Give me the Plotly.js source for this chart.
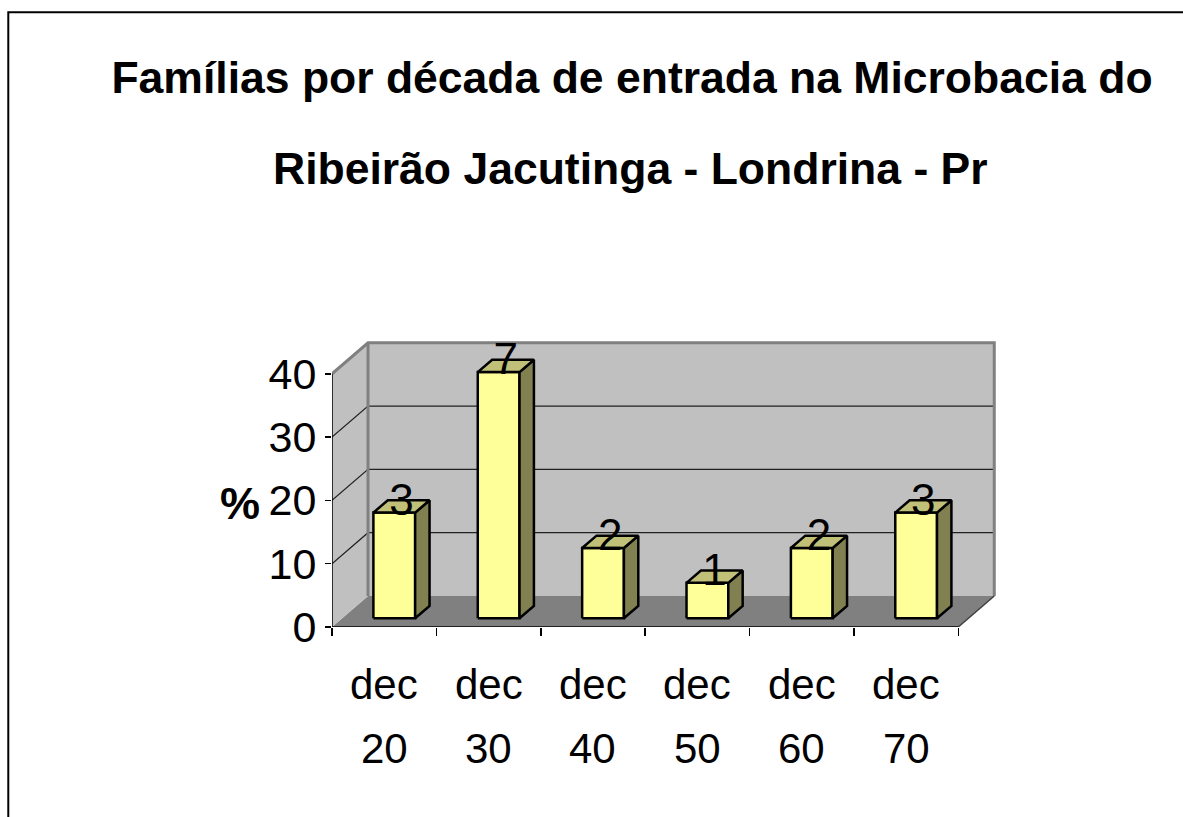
<!DOCTYPE html>
<html>
<head>
<meta charset="utf-8">
<script src="https://cdn.plot.ly/plotly-3.0.1.min.js"></script>
<style>
  html, body { margin: 0; padding: 0; background: #ffffff; }
  #chart { width: 1183px; height: 817px; }
</style>
</head>
<body>
<div id="chart"></div>
<script>
// ---------- data ----------
const categories = ['dec 20', 'dec 30', 'dec 40', 'dec 50', 'dec 60', 'dec 70'];
const labelTop = ['dec', 'dec', 'dec', 'dec', 'dec', 'dec'];
const labelBottom = ['20', '30', '40', '50', '60', '70'];
const percents = [16.7, 38.9, 11.1, 5.6, 11.1, 16.7];
const counts = [3, 7, 2, 1, 2, 3];
const yTicks = [0, 10, 20, 30, 40];
const titleLine1 = 'Famílias por década de entrada na Microbacia do';
const titleLine2 = 'Ribeirão Jacutinga - Londrina - Pr';
const yTitle = '%';

// ---------- oblique 3D projection in axis units ----------
const FONT = 'Liberation Sans, Arial, Helvetica, sans-serif';
const DX = 0.345;      // depth shift along x (categories)
const DY = 4.9;        // depth shift along y (%)
const YMAX = yTicks[yTicks.length - 1];
const N = categories.length;
const HALF = 0.2;      // half bar width (category units)
const DF = 0.28, DB = 0.68; // bar front/back depth

function P(c, v, d) { return [c + d * DX, v + d * DY]; }

function polys(list, fill, lineColor, lineWidth) {
  const x = [], y = [];
  list.forEach(pts => {
    pts.forEach(p => { x.push(p[0]); y.push(p[1]); });
    x.push(pts[0][0]); y.push(pts[0][1]);
    x.push(null); y.push(null);
  });
  return {
    type: 'scatter', mode: 'lines', x: x, y: y,
    fill: 'toself', fillcolor: fill,
    line: { color: lineColor, width: lineWidth },
    hoverinfo: 'skip', showlegend: false
  };
}
function path(list, color, width) {
  const x = [], y = [];
  list.forEach(pts => {
    pts.forEach(p => { x.push(p[0]); y.push(p[1]); });
    x.push(null); y.push(null);
  });
  return {
    type: 'scatter', mode: 'lines', x: x, y: y,
    line: { color: color, width: width },
    hoverinfo: 'skip', showlegend: false
  };
}

const traces = [];
// floor
traces.push(polys([[P(0,0,0), P(N,0,0), P(N,0,1), P(0,0,1)]], '#808080', 'rgba(0,0,0,0)', 0));
// left wall and back wall
traces.push(polys([[P(0,0,0), P(0,0,1), P(0,YMAX,1), P(0,YMAX,0)]], '#c0c0c0', 'rgba(0,0,0,0)', 0));
traces.push(polys([[P(0,0,1), P(N,0,1), P(N,YMAX,1), P(0,YMAX,1)]], '#c0c0c0', 'rgba(0,0,0,0)', 0));
// gridlines
const grid = yTicks.filter(v => v > 0 && v < YMAX).map(v => [P(0,v,0), P(0,v,1), P(N,v,1)]);
traces.push(path(grid, '#202020', 1.2));
// wall outlines
traces.push(path([
  [P(0,YMAX,0), P(0,YMAX,1), P(N,YMAX,1), P(N,0,1)],
  [P(0,0,1), P(0,YMAX,1)]
], '#808080', 3));
// floor right edge
traces.push(path([[P(N,0,0), P(N,0,1)]], '#404040', 1.5));
// front axis edges
traces.push(path([[P(0,YMAX,0), P(0,0,0), P(N,0,0)]], '#000000', 1.5));

// bars
const fronts = [], sides = [], tops = [];
percents.forEach((v, i) => {
  const c0 = i + 0.5 - HALF, c1 = i + 0.5 + HALF;
  fronts.push([P(c0,0,DF), P(c1,0,DF), P(c1,v,DF), P(c0,v,DF)]);
  sides.push([P(c1,0,DF), P(c1,0,DB), P(c1,v,DB), P(c1,v,DF)]);
  tops.push([P(c0,v,DF), P(c1,v,DF), P(c1,v,DB), P(c0,v,DB)]);
});
traces.push(polys(fronts, '#ffff99', '#000000', 2.5));
traces.push(polys(sides, '#808050', '#000000', 2.5));
traces.push(polys(tops, '#c0c078', '#000000', 2.5));

// data labels (counts) centred on the bar tops
const DM = (DF + DB) / 2, LIFT = 0.4;
traces.push({
  type: 'scatter', mode: 'text',
  x: percents.map((v, i) => i + 0.5 + DM * DX),
  y: percents.map(v => v + DM * DY + LIFT),
  text: counts.map(String),
  textposition: 'middle center',
  textfont: { family: FONT, size: 44, color: '#000000' },
  cliponaxis: false, hoverinfo: 'skip', showlegend: false
});

// category labels as two rows
const annotations = [];
labelTop.forEach((t, i) => {
  annotations.push({ xref: 'x', yref: 'paper', x: i + 0.5, y: -0.2003, text: t,
    showarrow: false, xanchor: 'center', yanchor: 'middle',
    font: { family: FONT, size: 42, color: '#000000' } });
  annotations.push({ xref: 'x', yref: 'paper', x: i + 0.5, y: -0.4205, text: labelBottom[i],
    showarrow: false, xanchor: 'center', yanchor: 'middle',
    font: { family: FONT, size: 42, color: '#000000' } });
});
// y-axis title
annotations.push({ xref: 'paper', yref: 'paper', x: -0.1048, y: 0.43, text: yTitle,
  showarrow: false, xanchor: 'right', yanchor: 'middle',
  font: { family: FONT, size: 45, color: '#000000', weight: 700 } });
// second title line
annotations.push({ xref: 'paper', yref: 'paper', x: 0.4476, y: 1.5924, text: titleLine2,
  showarrow: false, xanchor: 'center', yanchor: 'middle',
  font: { family: FONT, size: 44.5, color: '#000000', weight: 700 } });

const layout = {
  width: 1183, height: 817,
  margin: { l: 332, r: 183, t: 339, b: 190, pad: 0 },
  paper_bgcolor: '#ffffff', plot_bgcolor: 'rgba(0,0,0,0)',
  title: {
    text: titleLine1, xref: 'container', yref: 'container',
    x: 632 / 1183, xanchor: 'center', y: 1 - 61.8 / 817, yanchor: 'top',
    font: { family: FONT, size: 44.5, color: '#000000', weight: 700 }
  },
  xaxis: {
    range: [0, 6.4], showgrid: false, zeroline: false, showline: false,
    tickmode: 'array', tickvals: [0, 1, 2, 3, 4, 5, 6], ticks: 'outside',
    ticklen: 8, tickwidth: 1.5, tickcolor: '#000000',
    showticklabels: false, fixedrange: true
  },
  yaxis: {
    range: [0, 45.5], showgrid: false, zeroline: false, showline: false,
    tickmode: 'array', tickvals: yTicks, ticktext: yTicks.map(String), ticks: 'outside',
    ticklen: 6, tickwidth: 1.5, tickcolor: '#000000',
    tickfont: { family: FONT, size: 43, color: '#000000' },
    fixedrange: true
  },
  annotations: annotations,
  shapes: [{
    type: 'rect', xref: 'paper', yref: 'paper',
    x0: -0.4846, x1: 1.2844, y0: -0.705, y1: 2.1344,
    line: { color: '#000000', width: 2 }, fillcolor: 'rgba(0,0,0,0)', layer: 'above'
  }],
  showlegend: false
};

Plotly.newPlot('chart', traces, layout, { staticPlot: true, displayModeBar: false });
</script>
</body>
</html>
